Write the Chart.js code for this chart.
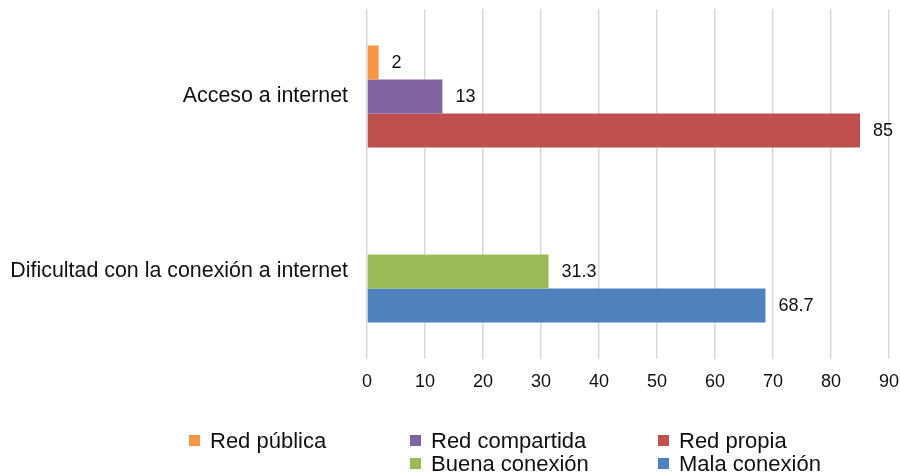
<!DOCTYPE html>
<html>
<head>
<meta charset="utf-8">
<script src="https://cdn.jsdelivr.net/npm/chart.js@4"></script>
<style>
  body { margin: 0; background: #fff; }
  #wrap { position: relative; width: 900px; height: 474px; }
  #legend {
    position: absolute; left: 189px; top: 429px;
    display: grid; grid-template-columns: 221px 248px auto; grid-auto-rows: 23px;
    font-family: "Liberation Sans", Arial, sans-serif; font-size: 22px; color: #111;
  }
  .item { display: flex; align-items: center; white-space: nowrap; }
  .box { width: 11px; height: 11px; margin-right: 10px; flex: none; }
</style>
</head>
<body>
<div id="wrap">
  <canvas id="myChart" width="900" height="474"></canvas>
  <div id="legend"></div>
</div>
<script>
const categories = ["Acceso a internet", "Dificultad con la conexión a internet"];

const seriesNames = ["Red pública", "Red compartida", "Red propia", "Buena conexión", "Mala conexión"];
const redPublica = [2, null];
const redCompartida = [13, null];
const redPropia = [85, null];
const buenaConexion = [null, 31.3];
const malaConexion = [null, 68.7];

const xTicks = [0, 10, 20, 30, 40, 50, 60, 70, 80, 90];

const colors = ["#F79646", "#8064A2", "#C0504D", "#9BBB59", "#4F81BD"];
// bars sharing a stack share a row slot inside the category
const stacks = ["a", "b", "c", "b", "c"];
// legend cell (row, column) for each series
const legendCells = [[1, 1], [1, 2], [1, 3], [2, 2], [2, 3]];

Chart.defaults.font.family = '"Liberation Sans", Arial, sans-serif';

const seriesData = [redPublica, redCompartida, redPropia, buenaConexion, malaConexion];

const data = {
  labels: categories,
  datasets: seriesNames.map((name, i) => ({
    label: name,
    data: seriesData[i],
    backgroundColor: colors[i],
    stack: stacks[i],
  })),
};

// number printed just past the end of each bar
const valueLabels = {
  id: "valueLabels",
  afterDatasetsDraw(chart) {
    const ctx = chart.ctx;
    ctx.save();
    ctx.font = '18px "Liberation Sans", Arial, sans-serif';
    ctx.fillStyle = "#111";
    ctx.textBaseline = "middle";
    chart.data.datasets.forEach((ds, i) => {
      chart.getDatasetMeta(i).data.forEach((bar, j) => {
        const v = ds.data[j];
        if (v == null) return;
        ctx.fillText(String(v), bar.x + 13, bar.y + 1);
      });
    });
    ctx.restore();
  },
};

// keep the axes from pushing the plot area in
const noScalePadding = (scale) => {
  scale.paddingTop = 0;
  scale.paddingBottom = 0;
  scale.paddingLeft = 0;
  scale.paddingRight = 0;
};

const config = {
  type: "bar",
  data: data,
  options: {
    indexAxis: "y",
    responsive: false,
    animation: false,
    layout: { padding: { top: 9, right: 11, bottom: 70, left: 0 } },
    datasets: { bar: { categoryPercentage: 0.583, barPercentage: 1 } },
    plugins: { legend: { display: false }, tooltip: { enabled: false } },
    scales: {
      x: {
        min: xTicks[0],
        max: xTicks[xTicks.length - 1],
        stacked: false,
        afterBuildTicks: (scale) => { scale.ticks = xTicks.map((v) => ({ value: v })); },
        afterFit: (scale) => { scale.height = 45; noScalePadding(scale); },
        ticks: { padding: 12, color: "#111", font: { size: 18 } },
        grid: { color: "#d9d9d9", lineWidth: 1.5, drawTicks: false },
        border: { display: false },
      },
      y: {
        afterFit: (scale) => { scale.width = 367; noScalePadding(scale); },
        ticks: { padding: 19, color: "#111", font: { size: 21.4 } },
        grid: { display: false, drawTicks: false },
        border: { display: false },
      },
    },
  },
  plugins: [valueLabels],
};

new Chart(document.getElementById("myChart"), config);

// legend laid out in three columns
const legend = document.getElementById("legend");
seriesNames.forEach((name, i) => {
  const item = document.createElement("div");
  item.className = "item";
  item.style.gridRow = legendCells[i][0];
  item.style.gridColumn = legendCells[i][1];
  item.innerHTML = '<span class="box" style="background:' + colors[i] + '"></span>' + name;
  legend.appendChild(item);
});
</script>
</body>
</html>
